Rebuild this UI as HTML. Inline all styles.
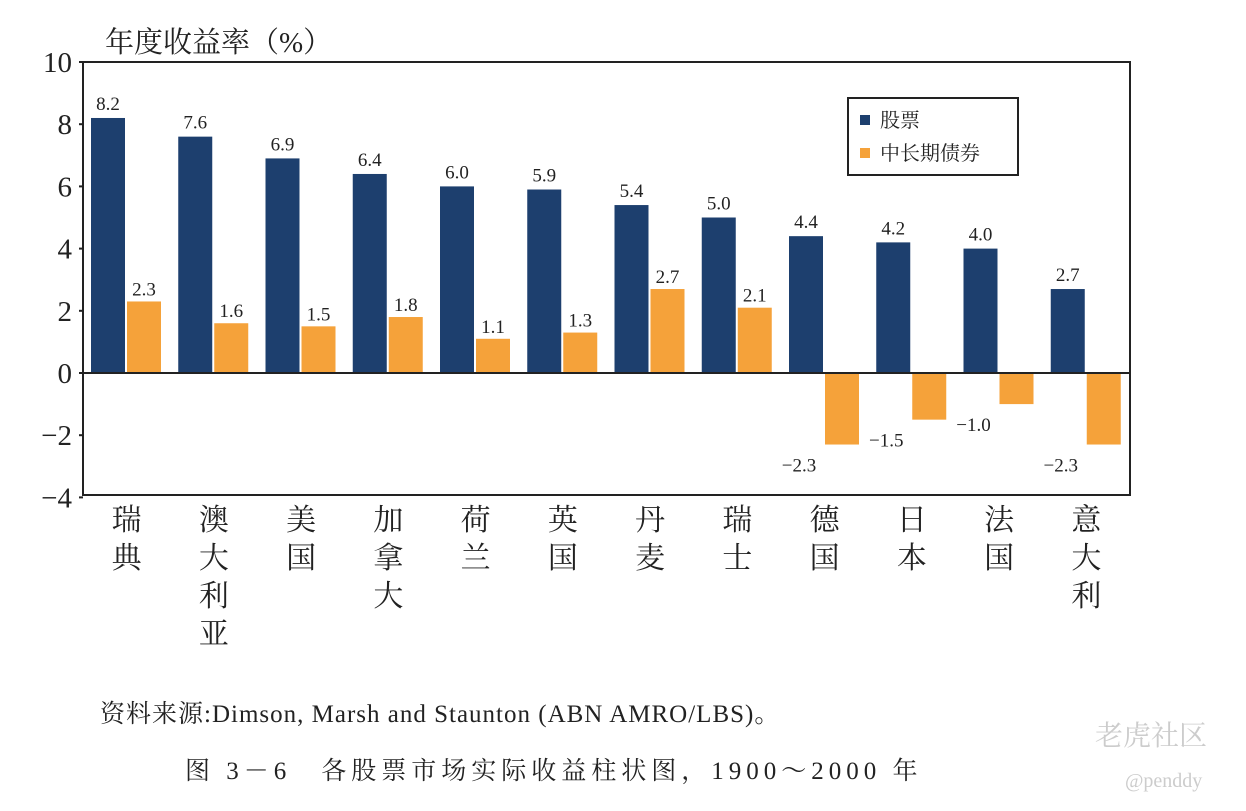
<!DOCTYPE html>
<html><head><meta charset="utf-8"><style>
body{margin:0;background:#fff;width:1246px;height:806px;overflow:hidden}
svg text{font-family:"Liberation Serif","Noto Serif CJK SC",serif;fill:#222}
</style></head><body>
<svg width="1246" height="806">
<g id="plot"></g>
<g id="legend">
<rect x="848" y="98" width="170" height="77" fill="#fff" stroke="#222" stroke-width="2"/>
<rect x="860" y="115" width="10" height="10" fill="#1d3f6e"/>
<text x="880" y="127" font-size="20">股票</text>
<rect x="860" y="148" width="10" height="10" fill="#f5a23a"/>
<text x="880" y="160" font-size="20">中长期债券</text>
</g>
<text x="105" y="52" font-size="29">年度收益率（%）</text>
<text x="100" y="722" font-size="25" letter-spacing="1">资料来源:Dimson, Marsh and Staunton (ABN AMRO/LBS)。</text>
<text x="185" y="779" font-size="25" letter-spacing="5">图 3－6　各股票市场实际收益柱状图，1900～2000 年</text>
<text x="1095" y="745" font-size="28" style="fill:#ccc">老虎社区</text>
<text x="1125" y="787" font-size="20" style="fill:#ccc">@penddy</text>
</svg>
<script>
const categories=["瑞典","澳大利亚","美国","加拿大","荷兰","英国","丹麦","瑞士","德国","日本","法国","意大利"];
const stocks=[8.2,7.6,6.9,6.4,6.0,5.9,5.4,5.0,4.4,4.2,4.0,2.7];
const bonds=[2.3,1.6,1.5,1.8,1.1,1.3,2.7,2.1,-2.3,-1.5,-1.0,-2.3];
const yTicks=[10,8,6,4,2,0,-2,-4];
const NS="http://www.w3.org/2000/svg";
const L=83,R=1130,T=62,B=495;
const y=v=>373-v*31.1;
const gw=(R-L)/categories.length;
const g=document.getElementById('plot');
function mk(tag,at,txt){const e=document.createElementNS(NS,tag);for(const k in at)e.setAttribute(k,at[k]);if(txt!==undefined)e.textContent=txt;g.appendChild(e);return e;}
categories.forEach((c,i)=>{
 const x0=L+i*gw+8;
 const s=stocks[i],b=bonds[i];
 const r1=mk('rect',{x:x0,y:Math.min(y(s),y(0)),width:34,height:Math.abs(y(s)-y(0)),fill:'#1d3f6e'});
 
 
 const r2=mk('rect',{x:x0+36,y:Math.min(y(b),y(0)),width:34,height:Math.abs(y(b)-y(0)),fill:'#f5a23a'});
 
 
 const t1=mk('text',{x:x0+17,y:y(s)-8,'font-size':19,'text-anchor':'middle'},s.toFixed(1));
 
 
 const t2=mk('text',{x:x0+(b<0?10:53),y:b<0?y(b)+27:y(b)-6,'font-size':19,'text-anchor':'middle'},(b<0?'−':'')+Math.abs(b).toFixed(1));
 
 
 [...c].forEach((ch,j)=>{
  const t=mk('text',{x:L+i*gw+gw/2,y:530+j*38,'font-size':30,'text-anchor':'middle'},ch);
  
  
 });
});
const z=mk('line',{x1:L,x2:R,y1:y(0),y2:y(0),stroke:'#222','stroke-width':2});


const f=mk('rect',{x:L,y:T,width:R-L,height:B-T,fill:'none',stroke:'#222','stroke-width':2});


yTicks.forEach(v=>{
 const t=mk('text',{x:72,y:y(v)+10,'font-size':29,'text-anchor':'end'},(v<0?'−':'')+Math.abs(v));
 
 
 const k=mk('line',{x1:L-4,x2:L,y1:y(v),y2:y(v),stroke:'#222','stroke-width':2});
 
 
});
</script>
</body></html>
